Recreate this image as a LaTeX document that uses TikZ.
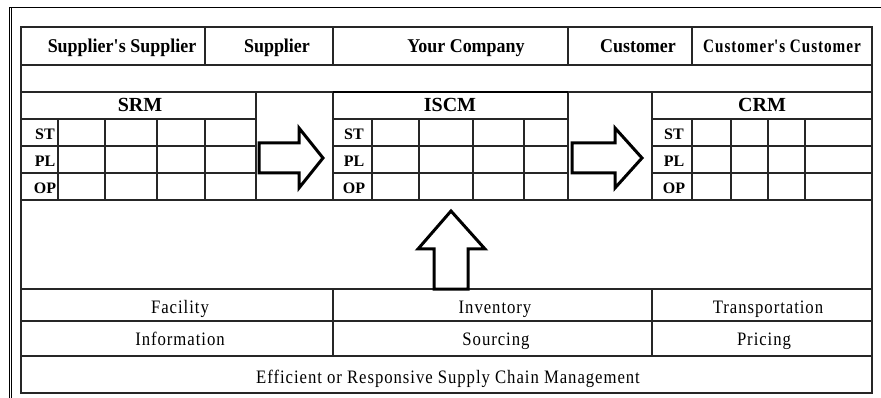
\documentclass[tikz,border=0pt]{standalone}
\usepackage{fontspec}
\setmainfont{Liberation Serif}
\newfontfamily\partyfont[FakeStretch=0.92]{Liberation Serif}
\newfontfamily\widepartyfont[FakeStretch=0.8,LetterSpace=5]{Liberation Serif}
\newfontfamily\driverfont[FakeStretch=0.88,LetterSpace=5]{Liberation Serif}
\begin{document}
\begin{tikzpicture}[x=1pt,y=-1pt,
  rule/.style={line width=1.1pt, black!85},
  heavy/.style={line width=2.4pt, black},
  bigarrow/.style={line width=3pt, black, line join=miter, fill=white},
  party/.style={font=\partyfont\fontsize{19.5}{21}\selectfont\bfseries, inner sep=0pt, anchor=base},
  area/.style={font=\fontsize{20}{22}\selectfont\bfseries, inner sep=0pt, anchor=base},
  level/.style={font=\fontsize{16}{18}\selectfont\bfseries, inner sep=0pt, anchor=base},
  driver/.style={font=\driverfont\fontsize{19}{21}\selectfont, inner sep=0pt, anchor=base}]
\useasboundingbox (0,0) rectangle (881,398);

% outer frame
\draw[line width=1pt] (9.5,398) -- (9.5,7.5) -- (881,7.5);
\draw[line width=1pt] (11.8,8) -- (11.8,398);

% table outline and full-width rules
\draw[rule] (21,27) rectangle (872,393);
\foreach \y in {65,92,200,289,321,356} \draw[rule] (21,\y) -- (872,\y);

% top row separators
\foreach \x in {205,333,568,692} \draw[rule] (\x,27) -- (\x,65);

% section borders
\foreach \x in {256,333,568,652} \draw[rule] (\x,92) -- (\x,200);
\draw[heavy] (333,92) -- (568,92);

% inner grid rows of the three matrices
\foreach \a/\b in {21/256,333/568,652/872}
  \foreach \y in {119,146,173} \draw[rule] (\a,\y) -- (\b,\y);

% inner grid columns
\foreach \x in {58,105,157,205, 372,419,473,524, 692,731,768,805}
  \draw[rule] (\x,119) -- (\x,200);

% bottom separators
\foreach \x in {333,652} \draw[rule] (\x,289) -- (\x,356);

% party labels
\node[party] (ss) at (122,53) {Supplier\textquotesingle s Supplier};
\node[party] (sup) at (277,53) {Supplier};
\node[party] (yc) at (466,53) {Your Company};
\node[party] (cu) at (638,53) {Customer};
\node[party, font=\widepartyfont\fontsize{19}{21}\selectfont\bfseries] (cc) at (782,53) {Customer\textquotesingle s Customer};

% matrix headers
\node[area] (srm) at (140,112) {SRM};
\node[area] (iscm) at (450,112) {ISCM};
\node[area] (crm) at (762,112) {CRM};

% level labels
\foreach \n/\x in {s/45,i/354,c/674}{
  \node[level] (\n st) at (\x,139.5) {ST};
  \node[level] (\n pl) at (\x,166.5) {PL};
  \node[level] (\n op) at (\x,193.5) {OP};
}

% drivers
\node[driver] (fac) at (180,313) {Facility};
\node[driver] (inv) at (495,313) {Inventory};
\node[driver] (tra) at (768,313) {Transportation};
\node[driver] (inf) at (180,345) {Information};
\node[driver] (sou) at (496,345) {Sourcing};
\node[driver] (pri) at (764,345) {Pricing};
\node[driver] (eff) at (448,383) {Efficient or Responsive Supply Chain Management};

% block arrows
\draw[bigarrow] (259,143) -- (299,143) -- (299,128) -- (323,158) -- (299,188)
  -- (299,173) -- (259,173) -- cycle;
\draw[bigarrow] (572,143) -- (615,143) -- (615,128) -- (642,158) -- (615,188)
  -- (615,173) -- (572,173) -- cycle;
\draw[bigarrow] (434,289) -- (434,249) -- (418,249) -- (451,211) -- (485,249)
  -- (468,249) -- (468,289) -- cycle;
\end{tikzpicture}
\end{document}
